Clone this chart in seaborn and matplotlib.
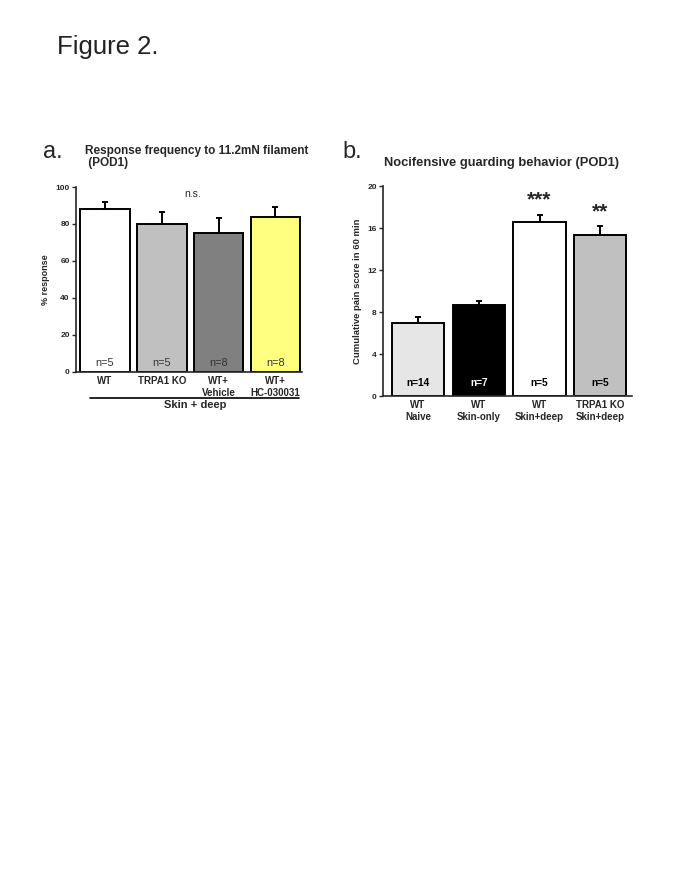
import numpy as np
import pandas as pd
import matplotlib
matplotlib.use("Agg")
import matplotlib.pyplot as plt
import seaborn as sns

# panel a: response frequency
a_groups = ["WT", "TRPA1 KO", "WT+\nVehicle", "WT+\nHC-030031"]
a_mean = [88, 80, 75, 84]
a_sem = [4, 6.5, 8, 5]
a_n = ["n=5", "n=5", "n=8", "n=8"]
a_colors = ["#ffffff", "#c0c0c0", "#808080", "#ffff80"]

# panel b: guarding behavior
b_groups = ["WT\nNaive", "WT\nSkin-only", "WT\nSkin+deep", "TRPA1 KO\nSkin+deep"]
b_mean = [7.0, 8.7, 16.6, 15.4]
b_sem = [0.5, 0.35, 0.7, 0.8]
b_n = ["n=14", "n=7", "n=5", "n=5"]
b_colors = ["#e6e6e6", "#000000", "#ffffff", "#c0c0c0"]
b_stars = ["", "", "***", "**"]

sns.set_style("ticks")
plt.rcParams["font.family"] = ["Liberation Sans", "DejaVu Sans"]

fig = plt.figure(figsize=(6.85, 8.85), dpi=100)
fig.text(0.083, 0.947, "Figure 2.", fontsize=18.5, va="center", ha="left",
         color="#222222")


def draw_panel(ax, groups, mean, sem, colors, width):
    df = pd.DataFrame({"group": groups, "value": mean})
    sns.barplot(data=df, x="group", y="value", hue="group", palette=colors,
                order=groups, legend=False, width=width, edgecolor="black",
                linewidth=1.4, saturation=1, ax=ax)
    x = np.arange(len(groups))
    ax.errorbar(x, mean, yerr=[np.zeros(len(sem)), sem], fmt="none",
                ecolor="black", elinewidth=1.4, capsize=2.5, capthick=1.4)
    sns.despine(ax=ax)
    ax.spines["left"].set_linewidth(1.2)
    ax.spines["bottom"].set_linewidth(1.2)
    ax.tick_params(axis="y", length=3, width=1, labelsize=6, pad=1.5)
    ax.tick_params(axis="x", length=0, labelsize=7, pad=3)
    for lab in ax.get_xticklabels() + ax.get_yticklabels():
        lab.set_fontweight("bold")
    ax.set_xlabel("")


# ---- panel a
ax1 = fig.add_axes([0.111, 0.5797, 0.330, 0.209])
draw_panel(ax1, a_groups, a_mean, a_sem, a_colors, 0.87)
ax1.set_ylim(0, 100)
ax1.set_xlim(-0.51, 3.47)
ax1.set_yticks([0, 20, 40, 60, 80, 100])
ax1.set_ylabel("% response", fontsize=6.5, fontweight="bold", labelpad=4)
for i, t in enumerate(a_n):
    ax1.text(i, 5, t, ha="center", va="center", fontsize=7.8, color="#333333")
ax1.text(1.55, 96, "n.s.", ha="center", va="center", fontsize=7.5)
ax1.plot([0.062, 0.987], [-0.14, -0.14], transform=ax1.transAxes,
         color="black", lw=1.2, clip_on=False)
ax1.text(0.527, -0.178, "Skin + deep", transform=ax1.transAxes,
         ha="center", va="center", fontsize=8, fontweight="bold")
ax1.text(0.04, 1.16, "Response frequency to 11.2mN filament\n (POD1)",
         transform=ax1.transAxes, ha="left", va="center", fontsize=8.5,
         fontweight="bold", linespacing=1.0)
fig.text(0.063, 0.828, "a.", fontsize=17, va="center", ha="left")

# ---- panel b
ax2 = fig.add_axes([0.559, 0.5525, 0.3635, 0.237])
draw_panel(ax2, b_groups, b_mean, b_sem, b_colors, 0.86)
ax2.set_ylim(0, 20)
ax2.set_xlim(-0.576, 3.52)
ax2.set_yticks([0, 4, 8, 12, 16, 20])
ax2.set_ylabel("Cumulative pain score in 60 min", fontsize=6.8,
               fontweight="bold", labelpad=4)
for i, t in enumerate(b_n):
    ax2.text(i, 1.2, t, ha="center", va="center", fontsize=7.3,
             fontweight="bold", color="white" if b_colors[i] == "#000000" else "black")
for i, s in enumerate(b_stars):
    if s:
        ax2.text(i, b_mean[i] + b_sem[i] + 1.4, s, ha="center", va="center",
                 fontsize=15, fontweight="bold")
ax2.text(0.475, 1.11, "Nocifensive guarding behavior (POD1)",
         transform=ax2.transAxes, ha="center", va="center", fontsize=9.3,
         fontweight="bold")
fig.text(0.500, 0.828, "b.", fontsize=17, va="center", ha="left")

fig.savefig("out.png", dpi=100, facecolor="white")
